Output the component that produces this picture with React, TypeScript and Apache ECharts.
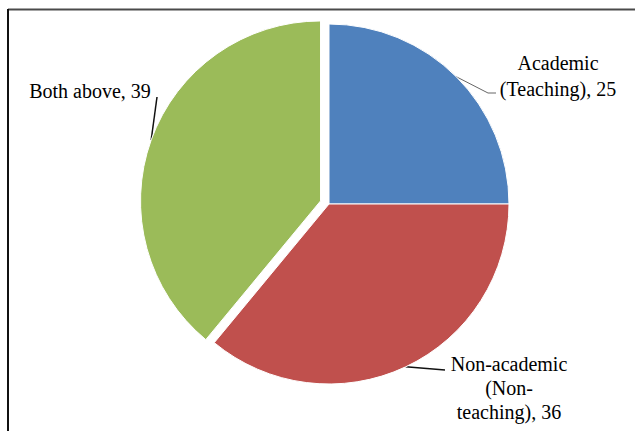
import React, { useEffect, useRef } from "react";
import * as echarts from "echarts";

// Staff categories and their counts
const categories = ["Academic (Teaching)", "Non-academic (Non-teaching)", "Both above"];
const labelNames = ["Academic\n(Teaching)", "Non-academic\n(Non-\nteaching)", "Both above"];
const values = [25, 36, 39];
const colors = ["#4F81BD", "#C0504D", "#9BBB59"];
const exploded = [false, false, true];

// Label block centres, line spacing, and where each leader line meets its label
const labelPos: [number, number][] = [
  [558, 76],
  [509, 388],
  [90, 91],
];
const labelLineHeights = [26, 24, 24];
const leaderEnds: number[][][] = [
  [[488, 93], [496, 93]],
  [[445, 370]],
  [[157, 97]],
];
const leaderColors = ["#666666", "#111111", "#111111"];

const CENTER: [number, number] = [329, 204];
const RADIUS = 180;
const EXPLODE = 9;
const FONT = "Liberation Serif";

export default function App() {
  const ref = useRef<HTMLDivElement>(null);

  useEffect(() => {
    if (!ref.current) return;
    const chart = echarts.init(ref.current, undefined, { renderer: "svg" });

    const total = values.reduce((a, b) => a + b, 0);

    // Pulled-out slices sit in their own pie whose centre is shifted along the slice bisector
    const makeSeries = (showIdx: (i: number) => boolean, center: [number, number]) => ({
      type: "pie",
      center,
      radius: RADIUS,
      startAngle: 90,
      clockwise: true,
      silent: true,
      avoidLabelOverlap: false,
      emphasis: { disabled: true },
      label: {
        show: true,
        position: "outside",
        color: "#000000",
        fontFamily: FONT,
        fontSize: 20,
        align: "center",
        formatter: (p: any) => `${labelNames[p.dataIndex]}, ${p.value}`,
      },
      labelLine: {
        show: true,
        length: 10,
        length2: 10,
        lineStyle: { color: "#333333", width: 1 },
      },
      labelLayout: (params: any) => {
        const i = params.dataIndex;
        const anchor = params.labelLinePoints ? params.labelLinePoints[0] : null;
        const out: any = {
          x: labelPos[i][0],
          y: labelPos[i][1],
          align: "center",
          verticalAlign: "middle",
        };
        if (anchor) out.labelLinePoints = [anchor, ...leaderEnds[i]];
        return out;
      },
      data: categories.map((name, i) => {
        const shown = showIdx(i);
        return {
          name,
          value: values[i],
          itemStyle: shown
            ? { color: colors[i], borderColor: "#ffffff", borderWidth: 1 }
            : { color: "rgba(0,0,0,0)", borderWidth: 0 },
          label: {
            show: shown,
            fontFamily: FONT,
            fontSize: 20,
            lineHeight: labelLineHeights[i],
          },
          labelLine: {
            show: shown,
            lineStyle: { color: leaderColors[i], width: i === 0 ? 1 : 1.5 },
          },
        };
      }),
    });

    const series: any[] = [makeSeries((i) => !exploded[i], CENTER)];

    let before = 0;
    values.forEach((v, i) => {
      if (exploded[i]) {
        const mid = ((before + v / 2) / total) * Math.PI * 2;
        const c: [number, number] = [
          CENTER[0] + EXPLODE * Math.sin(mid),
          CENTER[1] - EXPLODE * Math.cos(mid),
        ];
        series.push(makeSeries((j) => j === i, c));
      }
      before += v;
    });

    chart.setOption({
      animation: false,
      backgroundColor: "#ffffff",
      textStyle: { fontFamily: FONT },
      graphic: [
        {
          type: "line",
          shape: { x1: 8, y1: 9.5, x2: 635, y2: 9.5 },
          style: { stroke: "#4a4a4a", lineWidth: 2 },
          silent: true,
        },
        {
          type: "line",
          shape: { x1: 8, y1: 9, x2: 8, y2: 431 },
          style: { stroke: "#111111", lineWidth: 2 },
          silent: true,
        },
      ],
      series,
    });
    return () => chart.dispose();
  }, []);

  return (
    <div
      ref={ref}
      style={{ position: "fixed", left: 0, top: 0, width: 635, height: 431 }}
    />
  );
}
